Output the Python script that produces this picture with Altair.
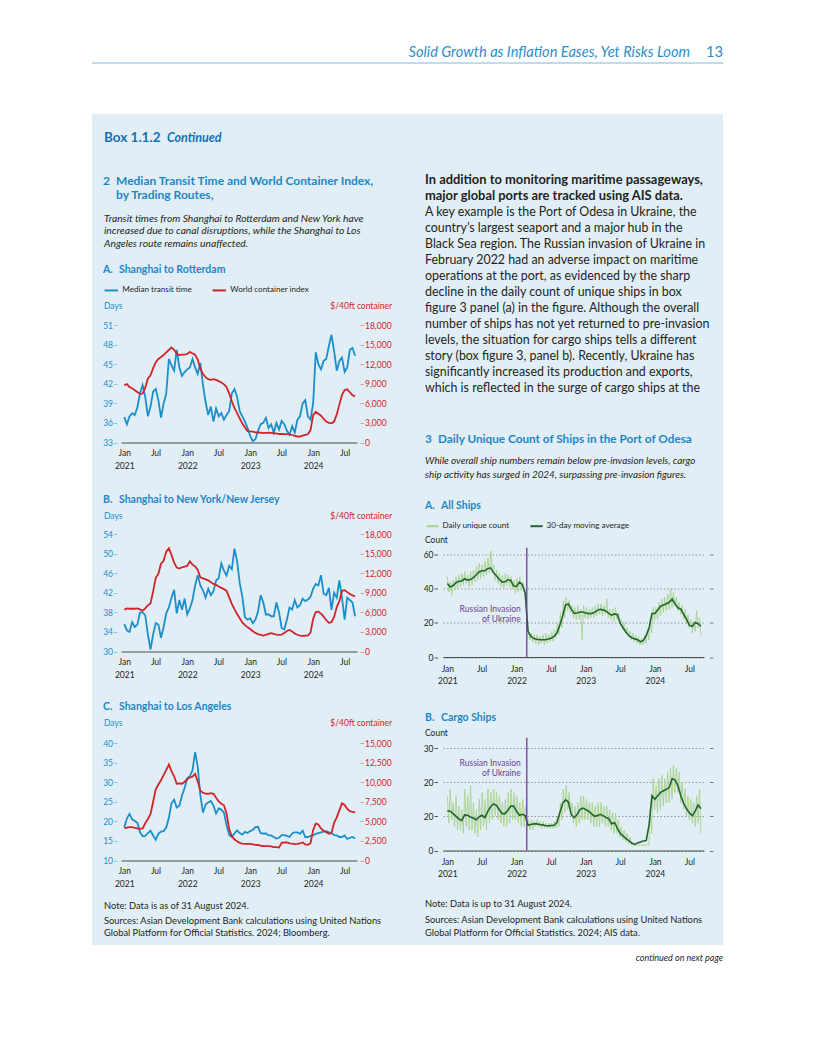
import altair as alt
import pandas as pd

# ---------------- data ----------------
START, END = "2021-01-01", "2024-08-31"
TICK_MONTHS = [(2021, 1), (2021, 7), (2022, 1), (2022, 7), (2023, 1), (2023, 7), (2024, 1), (2024, 7)]
INVASION = "2022-02-24"

ROT_DAYS = [36.9, 35.8, 37.0, 37.5, 37.2, 38.4, 40.5, 41.8, 40.0, 37.0,
            38.5, 40.8, 41.2, 39.5, 36.8, 39.0, 40.5, 45.8, 44.8, 44.0,
            47.2, 44.5, 43.2, 43.8, 44.2, 44.5, 45.8, 44.5, 43.5, 45.2,
            41.8, 39.2, 37.2, 38.5, 36.2, 38.2, 37.0, 37.5, 36.5, 37.2,
            37.8, 40.5, 41.2, 40.0, 37.8, 37.0, 36.2, 35.2, 34.0, 33.2,
            33.5, 34.8, 35.8, 36.0, 36.8, 35.2, 35.8, 34.5, 36.0, 35.0,
            36.3, 35.8, 34.8, 34.2, 35.5, 34.5, 36.5, 37.0, 39.0, 39.5,
            37.0, 36.5, 39.0, 46.8, 45.0, 44.2, 45.5, 45.8, 47.8, 49.5,
            47.0, 44.0, 45.5, 46.0, 43.8, 44.5, 47.2, 47.5, 46.3]
ROT_INDEX = [8800, 8950, 8500, 8300, 8000, 7750, 7450, 7500, 8400, 9800,
             10300, 11400, 12300, 12800, 13100, 13400, 13800, 14200, 14550, 14200,
             13600, 13400, 13450, 13450, 13550, 13900, 13650, 13450, 12700, 11300,
             10500, 10000, 9700, 9600, 9700, 9600, 9400, 9200, 8900, 8500,
             7500, 6300, 5300, 4500, 3700, 2900, 2300, 1750, 1690, 1650,
             1560, 1530, 1500, 1440, 1480, 1500, 1480, 1420, 1400, 1300,
             1300, 1290, 1280, 1260, 1150, 1000, 920, 920, 1050, 1150,
             1250, 1900, 4200, 4700, 4400, 4100, 3600, 3200, 3000, 2950,
             3200, 4300, 5800, 7300, 8050, 8150, 7700, 7250, 7050]
NY_DAYS = [35.6, 34.3, 34.0, 36.0, 35.0, 35.5, 38.0, 38.0, 37.4, 33.5,
           30.4, 33.5, 35.8, 35.5, 32.8, 35.0, 37.8, 39.0, 41.0, 42.6,
           37.8, 40.5, 38.5, 40.8, 37.6, 38.8, 40.5, 43.5, 45.6, 43.5,
           42.5, 41.0, 42.8, 41.5, 42.3, 44.5, 45.0, 48.0, 46.5, 45.5,
           47.5, 46.8, 51.0, 48.5, 44.0, 41.2, 37.0, 36.5, 36.8, 35.8,
           36.5, 38.2, 41.5, 40.0, 37.5, 37.6, 37.2, 37.2, 40.0, 38.0,
           34.8, 34.5, 36.5, 39.0, 38.6, 40.5, 39.0, 39.5, 40.8, 40.3,
           40.6, 41.2, 42.8, 43.8, 43.5, 45.6, 41.8, 41.5, 43.0, 38.5,
           42.0, 41.0, 44.5, 41.0, 36.5, 41.0, 40.5, 40.0, 37.2]
NY_INDEX = [6400, 6600, 6550, 6550, 6550, 6600, 6450, 6250, 6600, 7100,
            7350, 9200, 11300, 11900, 13450, 13900, 15300, 15800, 14800, 13600,
            12850, 12700, 12900, 13000, 13100, 13800, 13300, 13050, 12500, 11350,
            11200, 11050, 10900, 10600, 10350, 10200, 9950, 9750, 9550, 9300,
            8300, 7300, 6500, 5750, 5100, 4450, 4050, 3700, 3450, 3100,
            2850, 2650, 2550, 2450, 2550, 2700, 2800, 2700, 2580, 2560,
            2600, 2820, 3150, 3300, 3050, 2750, 2560, 2420, 2400, 2420,
            2420, 2900, 5000, 6050, 6100, 5800, 5350, 4800, 4400, 4500,
            5300, 6800, 7700, 9300, 9400, 9100, 8800, 8600, 8450]
LA_DAYS = [18.5, 20.7, 21.9, 20.5, 20.1, 19.6, 17.2, 16.2, 16.3, 17.0,
           17.6, 16.4, 15.3, 16.8, 17.4, 17.5, 18.4, 20.9, 24.6, 25.5,
           23.5, 24.0, 26.6, 28.5, 31.0, 31.5, 33.0, 37.7, 34.0, 26.6,
           22.2, 24.3, 24.8, 25.2, 24.0, 22.0, 23.3, 23.0, 22.2, 19.0,
           16.5, 16.0, 16.9, 17.7, 17.0, 16.6, 17.3, 17.0, 17.5, 17.8,
           18.5, 18.6, 17.0, 16.9, 16.9, 16.4, 16.4, 16.0, 15.6, 15.8,
           16.5, 16.5, 16.3, 16.0, 16.9, 17.2, 17.2, 16.8, 17.6, 16.0,
           16.0, 16.3, 16.4, 16.8, 17.0, 17.2, 17.4, 17.5, 17.2, 17.0,
           16.5, 16.4, 16.0, 16.0, 16.4, 15.5, 15.8, 16.0, 15.6]
LA_INDEX = [4130, 4200, 4250, 4250, 4150, 4100, 4050, 4100, 4750, 5300,
            5900, 7500, 9100, 9700, 10250, 10900, 11550, 12250, 11400, 10750,
            9800, 9850, 9800, 10050, 10400, 10600, 10700, 11050, 10100, 8900,
            8650, 8550, 8520, 8600, 8520, 8000, 7550, 7250, 7050, 6000,
            4000, 3100, 2700, 2450, 2250, 2150, 2130, 2130, 2120, 2050,
            2000, 1980, 1900, 1850, 1830, 1830, 1800, 1720, 1720, 1650,
            2250, 2300, 2300, 2180, 2150, 2100, 2130, 2200, 2300, 2050,
            2000, 2200, 3900, 4700, 4600, 4100, 3800, 3600, 3400, 3500,
            4800, 5500, 6400, 7300, 7100, 6600, 6300, 6200, 6150]

ALL_DAILY = [47, 38, 44, 36, 45, 39, 47, 40, 48, 41,
             49, 42, 50, 43, 48, 41, 50, 42, 51, 44,
             53, 45, 55, 46, 54, 47, 56, 48, 58, 49,
             62, 50, 54, 45, 51, 43, 49, 41, 48, 40,
             49, 42, 48, 41, 47, 40, 45, 37, 46, 38,
             47, 39, 44, 38, 36, 16, 14, 10, 14, 9,
             13, 8, 13, 7, 12, 8, 13, 7, 14, 8,
             13, 9, 15, 9, 16, 11, 20, 13, 26, 17,
             33, 23, 35, 27, 33, 26, 30, 23, 29, 22,
             30, 22, 28, 10, 30, 23, 29, 22, 28, 23,
             29, 23, 30, 24, 31, 25, 31, 24, 30, 25,
             34, 23, 28, 22, 28, 21, 29, 22, 26, 20,
             22, 16, 20, 14, 17, 12, 15, 10, 14, 9,
             13, 8, 12, 7, 11, 7, 13, 8, 16, 10,
             22, 14, 29, 21, 29, 22, 32, 24, 34, 26,
             35, 27, 37, 28, 40, 29, 38, 30, 35, 27,
             32, 25, 30, 22, 28, 19, 25, 17, 22, 14,
             21, 15, 27, 17, 23, 12]
ALL_MA = [43.0, 41.0, 41.8, 43.5, 44.3, 44.5, 45.8, 45.0, 45.3, 46.5,
          48.0, 49.8, 50.5, 50.5, 51.7, 52.2, 49.5, 47.5, 45.5, 43.8,
          44.0, 45.2, 44.8, 41.5, 41.3, 43.8, 42.5, 37.5, 15.0, 12.0,
          10.8, 10.4, 10.1, 10.1, 10.1, 10.5, 11.0, 12.0, 14.0, 18.5,
          24.0, 30.5, 31.0, 28.0, 25.5, 25.8, 26.3, 26.3, 25.8, 25.4,
          25.5, 26.0, 27.3, 27.9, 27.6, 27.0, 25.5, 24.5, 25.2, 24.8,
          19.6, 17.0, 14.5, 12.5, 11.3, 10.6, 10.1, 8.9, 9.7, 12.5,
          17.0, 25.5, 25.5, 27.5, 29.7, 30.4, 31.2, 32.0, 34.0, 31.0,
          28.8, 28.0, 25.0, 22.0, 18.5, 18.0, 20.2, 19.5, 18.0]
CARGO_DAILY = [16, 8, 18, 9, 14, 7, 16, 6, 13, 6,
               12, 5, 18, 7, 16, 6, 19, 6, 14, 5,
               12, 4, 15, 6, 17, 7, 15, 6, 18, 8,
               17, 9, 18, 10, 17, 9, 16, 8, 14, 7,
               15, 7, 17, 8, 18, 9, 17, 9, 16, 8,
               14, 7, 15, 7, 13, 8, 9, 6, 9, 6,
               8.5, 7, 9, 7, 8.5, 6.5, 8.5, 6.5, 8, 6.5,
               8, 6.5, 8, 6.5, 8.5, 6.5, 10, 7, 14, 9,
               18, 11, 19, 12, 17, 11, 14, 8, 13, 7,
               14, 8, 16, 9, 16, 9, 15, 9, 14, 8,
               14, 7, 13, 7, 14, 7, 14, 8, 13, 7,
               13, 7, 12, 6, 11, 5, 11, 5, 9, 4,
               7, 3, 6, 2.5, 5, 2, 4, 1.5, 2, 1.5,
               1.6, 1.5, 1.6, 1.5, 1.6, 1.5, 1.6, 1.5, 1.8, 1.5,
               12, 5, 21, 12, 19, 11, 21, 12, 22, 13,
               21, 14, 23, 14, 24, 15, 25, 17, 24, 17,
               23, 14, 20, 12, 18, 10, 16, 9, 15, 8,
               14, 7, 16, 8, 18, 5]
CARGO_MA = [11.6, 11.5, 10.8, 10.0, 9.2, 8.8, 10.4, 10.3, 9.8, 9.5,
            9.0, 9.8, 10.3, 9.6, 11.4, 12.8, 13.6, 13.2, 12.0, 10.8,
            10.8, 11.8, 13.0, 13.0, 11.5, 10.3, 10.6, 10.2, 7.4, 7.6,
            7.8, 7.8, 7.6, 7.5, 7.3, 7.2, 7.3, 7.4, 8.2, 11.0,
            13.8, 14.8, 14.2, 10.5, 9.6, 10.5, 12.0, 12.4, 12.0, 11.5,
            10.8, 10.0, 10.2, 10.6, 10.2, 9.7, 9.3, 7.8, 8.2, 6.5,
            5.0, 4.2, 3.5, 2.8, 2.2, 1.8, 2.2, 2.5, 2.8, 2.9,
            7.6, 16.0, 15.0, 16.0, 17.0, 17.5, 17.9, 18.5, 21.0, 20.7,
            19.0, 16.0, 13.8, 12.2, 11.0, 10.2, 11.5, 13.3, 12.2]

ROUTE_SERIES = ["Median transit time", "World container index"]
SHIP_SERIES = ["Daily unique count", "30-day moving average"]

ROT_DAY_TICKS = [33, 36, 39, 42, 45, 48, 51]
NY_DAY_TICKS = [30, 34, 38, 42, 46, 50, 54]
LA_DAY_TICKS = [10, 15, 20, 25, 30, 35, 40]
IDX18_TICKS = [0, 3000, 6000, 9000, 12000, 15000, 18000]
IDX15_TICKS = [0, 2500, 5000, 7500, 10000, 12500, 15000]
ALL_TICKS = [0, 20, 40, 60]
CARGO_TICKS = [0, 10, 20, 30]

# ---------------- styles ----------------
FONT = "Lato"
INK = "#231f20"
BOX_BG = "#e2eef6"
HEAD_BLUE = "#2b8fcb"
TITLE_BLUE = "#1d86c6"
DARK_BLUE = "#1570b5"
LINE_BLUE = "#1a8fcb"
LINE_RED = "#d2232a"
LIGHT_GREEN = "#a9d38f"
DARK_GREEN = "#23652f"
PURPLE = "#6a3d96"
AXIS_DARK = "#4a4a4a"
OX, OY = 8, 8  # page -> canvas offset

ONE = pd.DataFrame({"k": [0]})


def frame(values, name):
    return pd.DataFrame({"date": pd.date_range(START, END, periods=len(values)),
                         "value": values, "series": name})


def dt(y, m, d):
    return alt.DateTime(year=y, month=m, date=d)


TICK_VALUES = [dt(y, m, 1) for y, m in TICK_MONTHS]
LABEL_EXPR = "month(datum.value) == 0 ? ['Jan', timeFormat(datum.value, '%Y')] : 'Jul'"


def x_enc(domain, pad, lh):
    return alt.X("date:T", title=None, scale=alt.Scale(domain=domain),
                 axis=alt.Axis(values=TICK_VALUES, labelExpr=LABEL_EXPR, ticks=False, tickSize=0,
                               domain=True, domainColor=AXIS_DARK, domainWidth=1, grid=False,
                               labelFontSize=8.5, labelColor=INK, labelPadding=pad,
                               labelLineHeight=lh, labelAngle=0, labelOverlap=False,
                               labelFlush=False))


X_LEFT = x_enc([dt(2020, 12, 13), dt(2024, 9, 11)], 6, 13)
X_RIGHT = x_enc([dt(2020, 12, 9), dt(2024, 9, 16)], 7, 12)


def route_panel(days, index, day_dom, day_ticks, idx_dom, idx_ticks, legend=False):
    ddf = frame(days, ROUTE_SERIES[0])
    idf = frame(index, ROUTE_SERIES[1])
    yl = alt.Y("value:Q", scale=alt.Scale(domain=day_dom, nice=False, zero=False),
               axis=alt.Axis(orient="left", values=day_ticks, title=None, domain=False,
                             tickSize=3.5, tickColor="#8ec6e6", offset=4, labelPadding=1,
                             labelFontSize=8.5, labelColor=LINE_BLUE, grid=False, labelFlush=False))
    yr = alt.Y("value:Q", scale=alt.Scale(domain=idx_dom, nice=False),
               axis=alt.Axis(orient="right", values=idx_ticks, title=None, domain=False, format=",d",
                             tickSize=3.5, tickColor="#e9999c", offset=3, labelPadding=1,
                             labelFontSize=8.5, labelColor=LINE_RED, grid=False, labelFlush=False))
    if legend:
        col = alt.Color("series:N",
                        scale=alt.Scale(domain=ROUTE_SERIES, range=[LINE_BLUE, LINE_RED]),
                        legend=alt.Legend(title=None, orient="none", legendX=-17.7, legendY=-43,
                                          direction="horizontal", symbolType="stroke",
                                          symbolSize=180, symbolStrokeWidth=2, labelFontSize=8.1,
                                          labelColor=INK, labelOffset=3, columnPadding=16))
        blue = alt.Chart(ddf).mark_line(strokeWidth=1.8).encode(x=X_LEFT, y=yl, color=col)
        red = alt.Chart(idf).mark_line(strokeWidth=1.8).encode(x=X_LEFT, y=yr, color=col)
    else:
        blue = alt.Chart(ddf).mark_line(strokeWidth=1.8, color=LINE_BLUE).encode(x=X_LEFT, y=yl)
        red = alt.Chart(idf).mark_line(strokeWidth=1.8, color=LINE_RED).encode(x=X_LEFT, y=yr)
    return alt.layer(blue, red).resolve_scale(y="independent").properties(width=236, height=117.5)


def ship_panel(daily, ma, dom, ticks, rule_top, label_y, label_expr=None, legend=False):
    sc = alt.Scale(domain=dom, nice=False)
    ax_kw = dict(orient="left", values=ticks, title=None, grid=True, gridDash=[1.5, 2],
                 gridColor="#7d7d7d", gridWidth=0.8, domain=False, tickSize=3.5, tickColor="#555555",
                 offset=5.5, labelPadding=1, labelFontSize=8.5, labelColor=INK, labelFlush=False)
    if label_expr:
        ax_kw["labelExpr"] = label_expr
    y = alt.Y("value:Q", scale=sc, axis=alt.Axis(**ax_kw))
    ddf = frame(daily, SHIP_SERIES[0])
    mdf = frame(ma, SHIP_SERIES[1])
    if legend:
        col = alt.Color("series:N",
                        scale=alt.Scale(domain=SHIP_SERIES, range=[LIGHT_GREEN, DARK_GREEN]),
                        legend=alt.Legend(title=None, orient="none", legendX=-18, legendY=-36,
                                          direction="horizontal", symbolType="stroke",
                                          symbolSize=150, symbolStrokeWidth=2, labelFontSize=8.1,
                                          labelColor=INK, labelOffset=2.5, columnPadding=16))
        light = alt.Chart(ddf).mark_line(strokeWidth=0.9).encode(x=X_RIGHT, y=y, color=col)
        dark = alt.Chart(mdf).mark_line(strokeWidth=1.6).encode(x=X_RIGHT, y=y, color=col)
    else:
        light = alt.Chart(ddf).mark_line(strokeWidth=0.9, color=LIGHT_GREEN).encode(x=X_RIGHT, y=y)
        dark = alt.Chart(mdf).mark_line(strokeWidth=1.6, color=DARK_GREEN).encode(x=X_RIGHT, y=y)
    inv = pd.DataFrame({"date": [pd.Timestamp(INVASION)], "value": [rule_top], "bottom": [0],
                        "label_y": [label_y]})
    rule = alt.Chart(inv).mark_rule(color=PURPLE, strokeWidth=1.3).encode(
        x=X_RIGHT, y=y, y2="bottom:Q")
    note = alt.Chart(inv).mark_text(text=["Russian Invasion", "of Ukraine"], align="right",
                                    baseline="alphabetic", dx=-6, fontSize=8.5, lineHeight=10,
                                    color=PURPLE).encode(
        x=X_RIGHT, y=alt.Y("label_y:Q", scale=sc, axis=alt.Axis(**ax_kw)))
    right_ticks = alt.Chart(mdf).mark_line(opacity=0).encode(
        x=X_RIGHT,
        y=alt.Y("value:Q", scale=sc,
                axis=alt.Axis(orient="right", values=ticks, title=None, labels=False, grid=False,
                              domain=False, tickSize=3.5, tickColor="#777777", offset=5.5)))
    inner = alt.layer(light, dark, rule, note)
    return alt.layer(inner, right_ticks).resolve_scale(y="independent").properties(
        width=261, height=102.5)


# ---------------- page text ----------------
def T(text, x, y, size=9.5, color=INK, weight="normal", style="normal", align="left", lh=None):
    kw = dict(text=text, fontSize=size, color=color, fontWeight=weight, fontStyle=style,
              align=align, baseline="alphabetic")
    if lh:
        kw["lineHeight"] = lh
    return alt.Chart(ONE).mark_text(**kw).encode(x=alt.value(x - OX), y=alt.value(y - OY))


bg = alt.Chart(ONE).mark_rect(color=BOX_BG).encode(
    x=alt.value(92 - OX), x2=alt.value(723 - OX), y=alt.value(114 - OY), y2=alt.value(945 - OY))
head_rule = alt.Chart(ONE).mark_rule(color="#7fb7dc", strokeWidth=1).encode(
    x=alt.value(92 - OX), x2=alt.value(723 - OX), y=alt.value(63 - OY), y2=alt.value(63 - OY))

texts = [
    T("Solid Growth as Inflation Eases, Yet Risks Loom", 690, 57, 14.6, HEAD_BLUE, style="italic", align="right"),
    T("13", 723, 57, 14.6, HEAD_BLUE, align="right"),
    T("Box 1.1.2", 104, 141.5, 13.5, DARK_BLUE, "bold"),
    T("Continued", 167, 141.5, 12.5, DARK_BLUE, "bold", "italic"),
    # figure 2
    T("2", 103, 184.8, 12, TITLE_BLUE, "bold"),
    T(["Median Transit Time and World Container Index,", "by Trading Routes,"], 116, 184.8, 12,
      TITLE_BLUE, "bold", lh=14.5),
    T(["Transit times from Shanghai to Rotterdam and New York have",
       "increased due to canal disruptions, while the Shanghai to Los",
       "Angeles route remains unaffected."], 104, 221.5, 10.25, INK, style="italic", lh=12.5),
    T("A.", 103, 273, 10.5, TITLE_BLUE, "bold"),
    T("Shanghai to Rotterdam", 119, 273, 10.5, TITLE_BLUE, "bold"),
    T("Days", 104, 308.5, 8.5, LINE_BLUE),
    T("$/40ft container", 392, 308.5, 8.5, LINE_RED, align="right"),
    T("B.", 103, 503, 10.5, TITLE_BLUE, "bold"),
    T("Shanghai to New York/New Jersey", 119, 503, 10.5, TITLE_BLUE, "bold"),
    T("Days", 104, 518.5, 8.5, LINE_BLUE),
    T("$/40ft container", 392, 518.5, 8.5, LINE_RED, align="right"),
    T("C.", 103, 710, 10.5, TITLE_BLUE, "bold"),
    T("Shanghai to Los Angeles", 119, 710, 10.5, TITLE_BLUE, "bold"),
    T("Days", 104, 726, 8.5, LINE_BLUE),
    T("$/40ft container", 392, 726, 8.5, LINE_RED, align="right"),
    T("Note: Data is as of 31 August 2024.", 104, 908.8, 9.3),
    T(["Sources: Asian Development Bank calculations using United Nations",
       "Global Platform for Official Statistics. 2024; Bloomberg."], 104, 923.8, 9.3, lh=12.6),
    # right column text
    T(["In addition to monitoring maritime passageways,",
       "major global ports are tracked using AIS data."], 425, 184, 12.9, INK, "bold", lh=16),
    T(["A key example is the Port of Odesa in Ukraine, the",
       "country\u2019s largest seaport and a major hub in the",
       "Black Sea region. The Russian invasion of Ukraine in",
       "February 2022 had an adverse impact on maritime",
       "operations at the port, as evidenced by the sharp",
       "decline in the daily count of unique ships in box",
       "figure 3 panel (a) in the figure. Although the overall",
       "number of ships has not yet returned to pre-invasion",
       "levels, the situation for cargo ships tells a different",
       "story (box figure 3, panel b). Recently, Ukraine has",
       "significantly increased its production and exports,",
       "which is reflected in the surge of cargo ships at the"], 425, 216, 12.4, INK, lh=16),
    # figure 3
    T("3", 425, 442.5, 11.75, TITLE_BLUE, "bold"),
    T("Daily Unique Count of Ships in the Port of Odesa", 438, 442.5, 11.75, TITLE_BLUE, "bold"),
    T(["While overall ship numbers remain below pre-invasion levels, cargo",
       "ship activity has surged in 2024, surpassing pre-invasion figures."], 425, 463.5, 9.85, INK,
      style="italic", lh=14.5),
    T("A.", 425, 509, 10.5, TITLE_BLUE, "bold"),
    T("All Ships", 441, 509, 10.5, TITLE_BLUE, "bold"),
    T("Count", 425, 543, 8.5),
    T("B.", 425, 721, 10.5, TITLE_BLUE, "bold"),
    T("Cargo Ships", 441, 721, 10.5, TITLE_BLUE, "bold"),
    T("Count", 425, 736, 8.5),
    T("Note: Data is up to 31 August 2024.", 425, 907, 9.3),
    T(["Sources: Asian Development Bank calculations using United Nations",
       "Global Platform for Official Statistics. 2024; AIS data."], 425, 923, 9.3, lh=12.6),
    T("continued on next page", 723, 960.5, 9, INK, style="italic", align="right"),
]

LEFT_X = 113    # canvas x of the left plot column
RIGHT_X = 435   # canvas x of the right plot column

page = alt.layer(bg, head_rule, *texts).properties(width=LEFT_X, height=10)


def spacer(w, h):
    return alt.Chart(ONE).mark_text(text=" ", fontSize=1).encode(
        x=alt.value(5), y=alt.value(5)).properties(width=w, height=h)


panel_a = route_panel(ROT_DAYS, ROT_INDEX, [33, 51], ROT_DAY_TICKS, [0, 18000], IDX18_TICKS, legend=True)
panel_b = route_panel(NY_DAYS, NY_INDEX, [30, 54], NY_DAY_TICKS, [0, 18000], IDX18_TICKS)
panel_c = route_panel(LA_DAYS, LA_INDEX, [10, 40], LA_DAY_TICKS, [0, 15000], IDX15_TICKS)
panel_3a = ship_panel(ALL_DAILY, ALL_MA, [0, 60], ALL_TICKS, 64, 26.6, legend=True)
panel_3b = ship_panel(CARGO_DAILY, CARGO_MA, [0, 30], CARGO_TICKS, 33, 24.8,
                      label_expr="datum.value == 10 ? '20' : datum.label")

left_col = alt.vconcat(spacer(236, 225.3), panel_a, panel_b, panel_c, spacing=91,
                       bounds="flush").resolve_scale(color="independent")
right_col = alt.vconcat(spacer(261, 455.5), panel_3a, panel_3b, spacing=90.5,
                        bounds="flush").resolve_scale(color="independent")
gap = spacer(RIGHT_X - LEFT_X, 10)

chart = alt.hconcat(page, left_col, gap, right_col, spacing=0, bounds="flush").resolve_scale(
    color="independent"
).properties(padding=0, background="white").configure(font=FONT).configure_view(strokeWidth=0)

chart.save("out.html", embed_options={"renderer": "svg", "actions": False})
